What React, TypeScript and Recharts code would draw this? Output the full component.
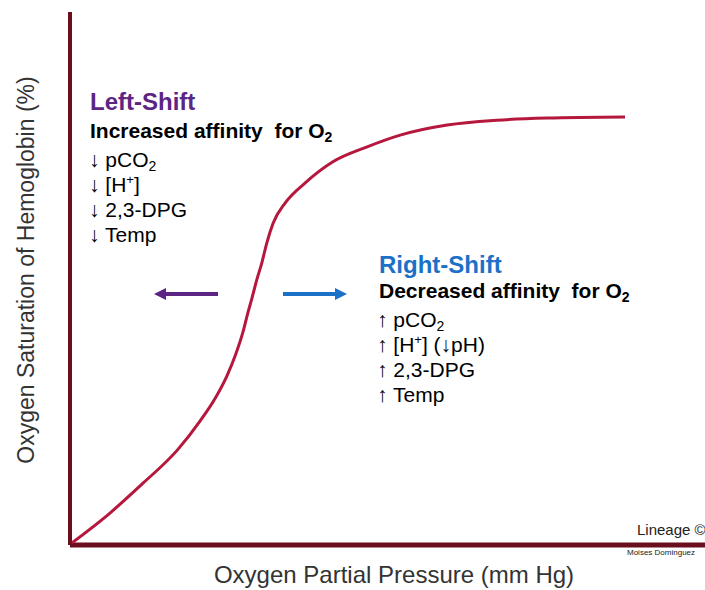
import React from "react";
import { LineChart, Line, XAxis, YAxis, ReferenceLine } from "recharts";

// pressure (relative 0-100 scale) vs saturation (%)
const pressure = [0.3, 6.3, 11.5, 16.9, 20.5, 22.8, 24.7, 26.1, 27.2, 28.0, 28.7, 29.4, 30.2, 31.0, 32.0, 33.9, 37.0, 41.4, 46.8, 52.0, 59.4, 67.2, 75.1, 87.4];
const saturation = [0.4, 6.0, 11.6, 17.8, 23.3, 27.4, 31.7, 35.8, 39.8, 43.5, 46.5, 49.7, 52.9, 56.7, 60.4, 64.2, 67.9, 71.9, 74.7, 76.9, 78.8, 79.7, 80.1, 80.3];

const leftItems = ["pCO2", "H+", "2,3-DPG", "Temp"];
const rightItems = ["pCO2", "H+", "2,3-DPG", "Temp"];

const data = pressure.map((x, i) => ({ x, y: saturation[i] }));

const AXIS = "#6b0f1e";
const CURVE = "#b5173d";
const PURPLE = "#5c2483";
const BLUE = "#1b70c8";
const FONT = "Arial, 'Liberation Sans', sans-serif";

const Item = ({ label, arrow, x, y, right }: { label: string; arrow: string; x: number; y: number; right: boolean }) => {
	if (label === "pCO2") {
		return (
			<text x={x} y={y} fontSize={21}>
				{arrow} pCO
				<tspan fontSize={14} dy={4}>2</tspan>
			</text>
		);
	}
	if (label === "H+") {
		return (
			<text x={x} y={y} fontSize={21}>
				{arrow} [H
				<tspan fontSize={13} dy={-8}>+</tspan>
				<tspan dy={8}>]{right ? " (↓pH)" : ""}</tspan>
			</text>
		);
	}
	return (
		<text x={x} y={y} fontSize={21}>
			{arrow} {label}
		</text>
	);
};

const App = () => {
	return (
		<div
			style={{
				position: "absolute",
				left: 0,
				top: 0,
				width: 705,
				height: 590,
				overflow: "hidden",
				background: "#fff",
				fontFamily: FONT,
			}}>
			<LineChart
				width={705}
				height={590}
				data={data}
				margin={{ top: 12, right: 0, bottom: 45, left: 70 }}>
				<XAxis dataKey={"x"} type='number' domain={[0, 100]} hide />
				<YAxis type='number' domain={[0, 100]} hide />
				<ReferenceLine x={0} stroke={AXIS} strokeWidth={4} />
				<ReferenceLine y={0} stroke={AXIS} strokeWidth={5} />
				<Line
					type='monotone'
					dataKey={"y"}
					stroke={CURVE}
					strokeWidth={3}
					dot={false}
					isAnimationActive={false}
				/>
			</LineChart>

			<svg
				width={705}
				height={590}
				style={{ position: "absolute", left: 0, top: 0, pointerEvents: "none" }}
				fontFamily={FONT}
				xmlSpace='preserve'>
				{/* axis titles */}
				<text x={394} y={583} fontSize={24} fill='#333' textAnchor='middle'>
					Oxygen Partial Pressure (mm Hg)
				</text>
				<text
					x={0}
					y={0}
					fontSize={23}
					fill='#333'
					textAnchor='middle'
					transform='translate(34 270) rotate(-90)'>
					Oxygen Saturation of Hemoglobin (%)
				</text>

				{/* left shift */}
				<text x={90} y={110} fontSize={24} fontWeight='bold' fill={PURPLE}>
					Left-Shift
				</text>
				<text x={90} y={138} fontSize={21} fontWeight='bold' style={{ whiteSpace: "pre" }}>
					Increased affinity  for O<tspan fontSize={14} dy={4}>2</tspan>
				</text>
				{leftItems.map((it, i) => (
					<Item key={it} label={it} arrow='↓' x={89} y={167 + i * 25} right={false} />
				))}

				{/* right shift */}
				<text x={379} y={273} fontSize={24} fontWeight='bold' fill={BLUE}>
					Right-Shift
				</text>
				<text x={379} y={298} fontSize={21} fontWeight='bold' style={{ whiteSpace: "pre" }}>
					Decreased affinity  for O<tspan fontSize={14} dy={4}>2</tspan>
				</text>
				{rightItems.map((it, i) => (
					<Item key={it} label={it} arrow='↑' x={377} y={327 + i * 25} right={true} />
				))}

				{/* shift arrows */}
				<line x1={218} y1={294} x2={164} y2={294} stroke={PURPLE} strokeWidth={4} />
				<polygon points='154,294 166,288 166,300' fill={PURPLE} />
				<line x1={283} y1={294} x2={337} y2={294} stroke={BLUE} strokeWidth={4} />
				<polygon points='347,294 335,288 335,300' fill={BLUE} />

				{/* credits */}
				<text x={637} y={535} fontSize={15} fill='#222'>
					Lineage ©
				</text>
				<text x={627} y={555} fontSize={8} fill='#222'>
					Moises Dominguez
				</text>
			</svg>
		</div>
	);
};

export default App;
